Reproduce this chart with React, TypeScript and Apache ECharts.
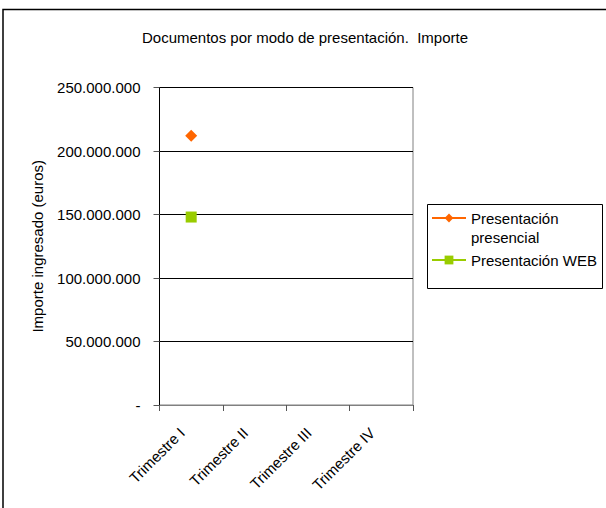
import React, { useEffect, useRef } from "react";
import * as echarts from "echarts";

const categories = ["Trimestre I", "Trimestre II", "Trimestre III", "Trimestre IV"];
const presencial = [212000000, null, null, null];
const web = [148000000, null, null, null];
const seriesNames = ["Presentación presencial", "Presentación WEB"];
const yTicks = [0, 50000000, 100000000, 150000000, 200000000, 250000000];

const FONT = "'Liberation Sans', Arial, sans-serif";

function fmt(v: number): string {
  if (v === 0) return "-";
  return String(Math.round(v)).replace(/\B(?=(\d{3})+(?!\d))/g, ".");
}

export default function App() {
  const ref = useRef<HTMLDivElement>(null);
  useEffect(() => {
    if (!ref.current) return;
    const chart = echarts.init(ref.current, null, { renderer: "svg" });
    chart.setOption({
      animation: false,
      backgroundColor: "#ffffff",
      textStyle: { fontFamily: FONT },
      title: {
        text: "Documentos por modo de presentación.  Importe",
        left: 142,
        top: 30,
        padding: 0,
        textStyle: { fontFamily: FONT, fontSize: 15, fontWeight: "normal", color: "#000" },
      },
      graphic: [
        {
          type: "rect",
          shape: { x: 3, y: 9.5, width: 640, height: 540 },
          style: { fill: "none", stroke: "#000", lineWidth: 1.5 },
          silent: true,
        },
        {
          type: "rect",
          shape: { x: 427.5, y: 204.5, width: 175, height: 84 },
          style: { fill: "none", stroke: "#000", lineWidth: 1 },
          silent: true,
        },
      ],
      legend: {
        orient: "vertical",
        left: 431,
        top: 189.5,
        padding: 0,
        itemGap: 4,
        itemWidth: 34,
        itemHeight: 11,
        data: seriesNames,
        formatter: (name: string) =>
          name === seriesNames[0] ? "\nPresentación\npresencial" : name,
        textStyle: { fontFamily: FONT, fontSize: 15, color: "#000", lineHeight: 19 },
      },
      grid: {
        left: 159.5,
        right: 193,
        top: 87.5,
        bottom: 103,
        show: true,
        borderColor: "#808080",
        borderWidth: 1,
        backgroundColor: "#ffffff",
      },
      xAxis: {
        type: "category",
        data: categories,
        boundaryGap: true,
        axisLine: { lineStyle: { color: "#808080", width: 1 } },
        axisTick: { show: true, length: 6, lineStyle: { color: "#555" } },
        axisLabel: {
          rotate: 45,
          margin: 16,
          padding: [0, 13, 0, 0],
          fontFamily: FONT,
          fontSize: 15,
          color: "#000",
        },
        splitLine: { show: false },
      },
      yAxis: {
        type: "value",
        min: 0,
        max: 250000000,
        interval: 50000000,
        name: "Importe ingresado (euros)",
        nameLocation: "middle",
        nameGap: 115,
        nameTextStyle: { fontFamily: FONT, fontSize: 15, color: "#000" },
        axisLine: { show: true, lineStyle: { color: "#000", width: 1 } },
        axisTick: { show: true, length: 6, lineStyle: { color: "#555" } },
        axisLabel: {
          margin: 19,
          fontFamily: FONT,
          fontSize: 15,
          color: "#000",
          formatter: (v: number) => (yTicks.includes(v) ? fmt(v) : ""),
        },
        splitLine: { show: true, lineStyle: { color: "#000", width: 1 } },
      },
      series: [
        {
          name: seriesNames[0],
          type: "line",
          data: presencial,
          symbol: "diamond",
          symbolSize: 12,
          color: "#FF6600",
          itemStyle: { color: "#FF6600" },
          lineStyle: { color: "#FF6600", width: 2 },
          connectNulls: false,
        },
        {
          name: seriesNames[1],
          type: "line",
          data: web,
          symbol: "rect",
          symbolSize: 11,
          color: "#99CC00",
          itemStyle: { color: "#99CC00" },
          lineStyle: { color: "#99CC00", width: 2 },
          connectNulls: false,
        },
      ],
    });
    return () => chart.dispose();
  }, []);
  return (
    <div
      ref={ref}
      style={{ position: "absolute", left: 0, top: 0, width: 606, height: 508 }}
    />
  );
}
